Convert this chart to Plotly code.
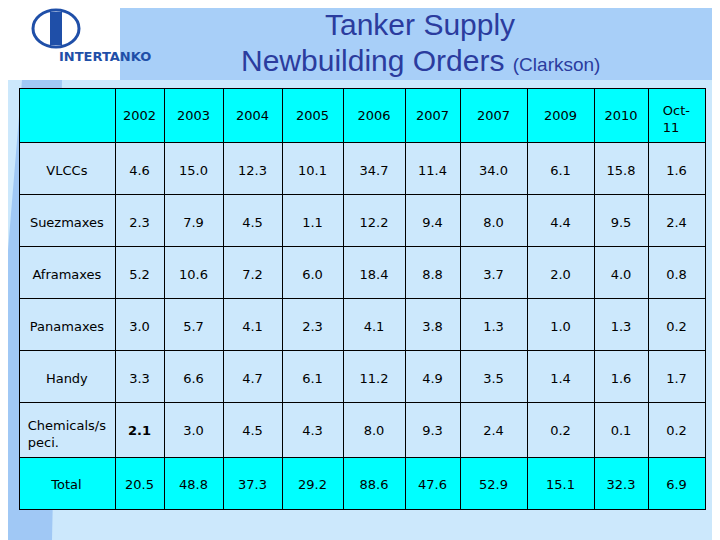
import plotly.graph_objects as go

categories = ["VLCCs", "Suezmaxes", "Aframaxes", "Panamaxes", "Handy", "Chemicals/s<br>peci.", "Total"]
years = ["2002", "2003", "2004", "2005", "2006", "2007", "2007", "2009", "2010", "Oct-<br>11"]
values = [
    [4.6, 2.3, 5.2, 3.0, 3.3, 2.1, 20.5],
    [15.0, 7.9, 10.6, 5.7, 6.6, 3.0, 48.8],
    [12.3, 4.5, 7.2, 4.1, 4.7, 4.5, 37.3],
    [10.1, 1.1, 6.0, 2.3, 6.1, 4.3, 29.2],
    [34.7, 12.2, 18.4, 4.1, 11.2, 8.0, 88.6],
    [11.4, 9.4, 8.8, 3.8, 4.9, 9.3, 47.6],
    [34.0, 8.0, 3.7, 1.3, 3.5, 2.4, 52.9],
    [6.1, 4.4, 2.0, 1.0, 1.4, 0.2, 15.1],
    [15.8, 9.5, 4.0, 1.3, 1.6, 0.1, 32.3],
    [1.6, 2.4, 0.8, 0.2, 1.7, 0.2, 6.9],
]
col_widths = [96, 49, 59, 59, 61, 62, 55, 67, 67, 54, 57]

LIGHT = "#cce8fc"
CYAN = "#00ffff"
W, H, OFF = 712, 532, 8  # page body margin shifts the plot by 8px


def px(x):
    return (x - OFF) / W


def py(y):
    return 1 - (y - OFF) / H


def pad(t):
    # push text down so it sits roughly mid-cell
    if "<br>" in t:
        return "<span style='font-size:2px'>\u00a0</span><br>" + t
    return "<span style='font-size:8px'>\u00a0</span><br>" + t


cols = [[pad(c) for c in categories]]
for j, col in enumerate(values):
    txt = [f"{v:.1f}" for v in col]
    if j == 0:
        txt[5] = "<b>" + txt[5] + "</b>"
    cols.append([pad(t) for t in txt])

row_fill = [LIGHT] * 6 + [CYAN]

fig = go.Figure(go.Table(
    domain=dict(x=[px(19), px(705)], y=[0.0, py(88)]),
    columnwidth=col_widths,
    header=dict(values=[""] + [pad(y) for y in years], fill_color=CYAN, line_color="black", line_width=1,
                align="center", height=51,
                font=dict(family="DejaVu Sans", size=13, color="black")),
    cells=dict(values=cols, fill_color=[row_fill] * 11, line_color="black", line_width=1,
               align="center", height=52,
               font=dict(family="DejaVu Sans", size=13, color="black")),
))

shapes = [
    dict(type="rect", xref="paper", yref="paper", x0=0, x1=1, y0=0, y1=1,
         fillcolor=LIGHT, line_width=0, layer="below"),
    dict(type="rect", xref="paper", yref="paper", x0=px(120), x1=1, y0=py(80), y1=1,
         fillcolor="#a8cff8", line_width=0, layer="below"),
    dict(type="path", xref="paper", yref="paper",
         path=f"M {px(22)},{py(80)} L {px(62)},{py(80)} L {px(52)},0 L 0,0 L 0,{py(250)} Z",
         fillcolor="#a0c8f5", line_width=0, layer="below"),
    dict(type="rect", xref="paper", yref="paper", x0=0, x1=px(120), y0=py(80), y1=1,
         fillcolor="white", line_width=0, layer="below"),
    dict(type="circle", xref="paper", yref="paper", x0=px(33), x1=px(79),
         y0=py(47), y1=py(10), line=dict(color="#1f4fa8", width=3)),
    dict(type="rect", xref="paper", yref="paper", x0=px(50), x1=px(62),
         y0=py(45), y1=py(12), fillcolor="#1f4fa8", line_width=0),
]

fig.update_layout(
    width=W, height=H, margin=dict(l=0, r=0, t=0, b=0),
    paper_bgcolor=LIGHT, shapes=shapes,
    annotations=[
        dict(text="Tanker Supply", x=px(420), y=py(24), xref="paper", yref="paper",
             yanchor="middle", showarrow=False,
             font=dict(family="Liberation Sans Narrow, Liberation Sans", size=30, color="#2b3c9e")),
        dict(text="Newbuilding Orders <span style='font-size:19px'>(Clarkson)</span>",
             x=px(420), y=py(60), xref="paper", yref="paper", yanchor="middle", showarrow=False,
             font=dict(family="Liberation Sans Narrow, Liberation Sans", size=30, color="#2b3c9e")),
        dict(text="<b>INTERTANKO</b>", x=px(57), y=py(57), xref="paper", yref="paper",
             yanchor="middle", showarrow=False,
             font=dict(family="DejaVu Sans", size=13, color="#1f4fa8")),
    ],
)

fig.write_html("out.html")
